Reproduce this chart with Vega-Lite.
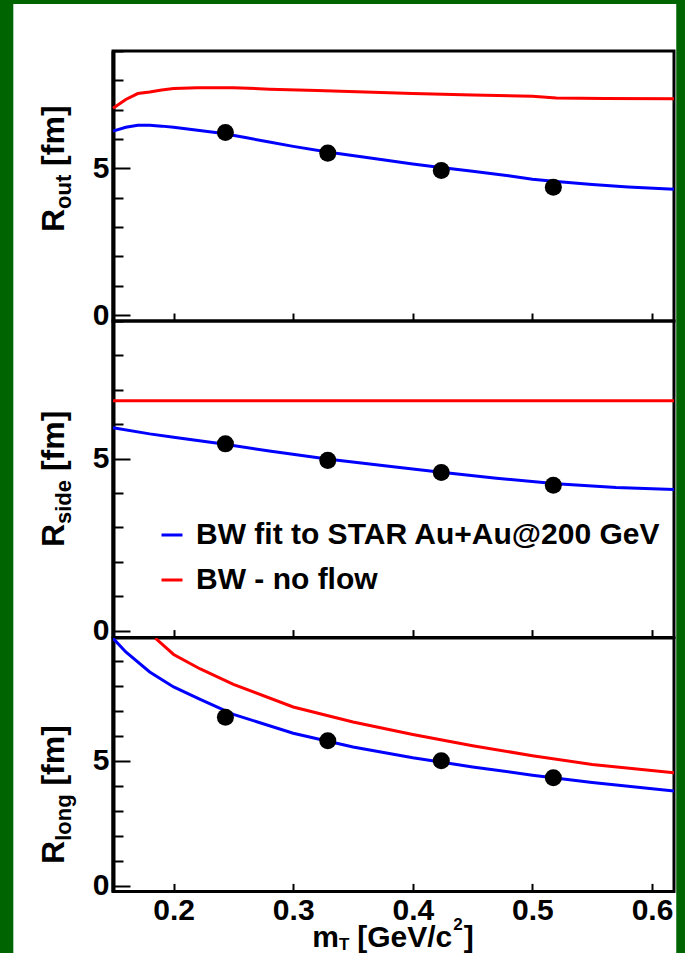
{
  "$schema": "https://vega.github.io/schema/vega-lite/v6.json",
  "background": "#006400",
  "padding": {"left": 13, "top": 4, "right": 9, "bottom": 0},
  "autosize": {"type": "pad"},
  "bounds": "flush",
  "spacing": 0,
  "config": {
    "font": "Liberation Sans",
    "view": {"stroke": "black", "strokeWidth": 3},
    "axis": {"zindex": 1, "labelFont": "Liberation Sans", "labelFontWeight": "bold", "labelFontSize": 30, "labelColor": "black", "tickColor": "black", "grid": false, "domain": false, "title": null, "labelOverlap": false},
    "text": {"font": "Liberation Sans", "fontWeight": "bold", "color": "black"}
  },
  "resolve": {"scale": {"x": "independent", "y": "independent", "color": "independent"}, "legend": {"color": "independent"}},
  "datasets": {
    "curves": [
      {"panel": "out", "series": "BW - no flow", "mT": 0.1493, "R": 7.05},
      {"panel": "out", "series": "BW - no flow", "mT": 0.16, "R": 7.35},
      {"panel": "out", "series": "BW - no flow", "mT": 0.17, "R": 7.55},
      {"panel": "out", "series": "BW - no flow", "mT": 0.18, "R": 7.6},
      {"panel": "out", "series": "BW - no flow", "mT": 0.19, "R": 7.67},
      {"panel": "out", "series": "BW - no flow", "mT": 0.2, "R": 7.72},
      {"panel": "out", "series": "BW - no flow", "mT": 0.22, "R": 7.75},
      {"panel": "out", "series": "BW - no flow", "mT": 0.25, "R": 7.75},
      {"panel": "out", "series": "BW - no flow", "mT": 0.28, "R": 7.7},
      {"panel": "out", "series": "BW - no flow", "mT": 0.32, "R": 7.65},
      {"panel": "out", "series": "BW - no flow", "mT": 0.36, "R": 7.6},
      {"panel": "out", "series": "BW - no flow", "mT": 0.4, "R": 7.55},
      {"panel": "out", "series": "BW - no flow", "mT": 0.45, "R": 7.5},
      {"panel": "out", "series": "BW - no flow", "mT": 0.5, "R": 7.46},
      {"panel": "out", "series": "BW - no flow", "mT": 0.52, "R": 7.4},
      {"panel": "out", "series": "BW - no flow", "mT": 0.56, "R": 7.38},
      {"panel": "out", "series": "BW - no flow", "mT": 0.6184, "R": 7.37},
      {"panel": "out", "series": "BW fit to STAR Au+Au@200 GeV", "mT": 0.1493, "R": 6.27},
      {"panel": "out", "series": "BW fit to STAR Au+Au@200 GeV", "mT": 0.16, "R": 6.4},
      {"panel": "out", "series": "BW fit to STAR Au+Au@200 GeV", "mT": 0.17, "R": 6.47},
      {"panel": "out", "series": "BW fit to STAR Au+Au@200 GeV", "mT": 0.18, "R": 6.47},
      {"panel": "out", "series": "BW fit to STAR Au+Au@200 GeV", "mT": 0.19, "R": 6.44},
      {"panel": "out", "series": "BW fit to STAR Au+Au@200 GeV", "mT": 0.2, "R": 6.4},
      {"panel": "out", "series": "BW fit to STAR Au+Au@200 GeV", "mT": 0.22, "R": 6.3},
      {"panel": "out", "series": "BW fit to STAR Au+Au@200 GeV", "mT": 0.24, "R": 6.2},
      {"panel": "out", "series": "BW fit to STAR Au+Au@200 GeV", "mT": 0.26, "R": 6.05},
      {"panel": "out", "series": "BW fit to STAR Au+Au@200 GeV", "mT": 0.28, "R": 5.9},
      {"panel": "out", "series": "BW fit to STAR Au+Au@200 GeV", "mT": 0.3, "R": 5.75},
      {"panel": "out", "series": "BW fit to STAR Au+Au@200 GeV", "mT": 0.33, "R": 5.55},
      {"panel": "out", "series": "BW fit to STAR Au+Au@200 GeV", "mT": 0.36, "R": 5.38},
      {"panel": "out", "series": "BW fit to STAR Au+Au@200 GeV", "mT": 0.4, "R": 5.15},
      {"panel": "out", "series": "BW fit to STAR Au+Au@200 GeV", "mT": 0.42, "R": 5.05},
      {"panel": "out", "series": "BW fit to STAR Au+Au@200 GeV", "mT": 0.45, "R": 4.9},
      {"panel": "out", "series": "BW fit to STAR Au+Au@200 GeV", "mT": 0.48, "R": 4.75},
      {"panel": "out", "series": "BW fit to STAR Au+Au@200 GeV", "mT": 0.5, "R": 4.63},
      {"panel": "out", "series": "BW fit to STAR Au+Au@200 GeV", "mT": 0.52, "R": 4.55},
      {"panel": "out", "series": "BW fit to STAR Au+Au@200 GeV", "mT": 0.55, "R": 4.45},
      {"panel": "out", "series": "BW fit to STAR Au+Au@200 GeV", "mT": 0.58, "R": 4.37},
      {"panel": "out", "series": "BW fit to STAR Au+Au@200 GeV", "mT": 0.6184, "R": 4.29},
      {"panel": "side", "series": "BW - no flow", "mT": 0.1493, "R": 6.68},
      {"panel": "side", "series": "BW - no flow", "mT": 0.6184, "R": 6.68},
      {"panel": "side", "series": "BW fit to STAR Au+Au@200 GeV", "mT": 0.1493, "R": 5.9},
      {"panel": "side", "series": "BW fit to STAR Au+Au@200 GeV", "mT": 0.18, "R": 5.72},
      {"panel": "side", "series": "BW fit to STAR Au+Au@200 GeV", "mT": 0.2, "R": 5.62},
      {"panel": "side", "series": "BW fit to STAR Au+Au@200 GeV", "mT": 0.24, "R": 5.43},
      {"panel": "side", "series": "BW fit to STAR Au+Au@200 GeV", "mT": 0.28, "R": 5.22},
      {"panel": "side", "series": "BW fit to STAR Au+Au@200 GeV", "mT": 0.33, "R": 4.98},
      {"panel": "side", "series": "BW fit to STAR Au+Au@200 GeV", "mT": 0.38, "R": 4.78},
      {"panel": "side", "series": "BW fit to STAR Au+Au@200 GeV", "mT": 0.42, "R": 4.62},
      {"panel": "side", "series": "BW fit to STAR Au+Au@200 GeV", "mT": 0.47, "R": 4.43},
      {"panel": "side", "series": "BW fit to STAR Au+Au@200 GeV", "mT": 0.52, "R": 4.27},
      {"panel": "side", "series": "BW fit to STAR Au+Au@200 GeV", "mT": 0.57, "R": 4.16},
      {"panel": "side", "series": "BW fit to STAR Au+Au@200 GeV", "mT": 0.6184, "R": 4.1},
      {"panel": "long", "series": "BW - no flow", "mT": 0.1847, "R": 9.9},
      {"panel": "long", "series": "BW - no flow", "mT": 0.2, "R": 9.25},
      {"panel": "long", "series": "BW - no flow", "mT": 0.2223, "R": 8.67},
      {"panel": "long", "series": "BW - no flow", "mT": 0.25, "R": 8.05},
      {"panel": "long", "series": "BW - no flow", "mT": 0.3, "R": 7.15},
      {"panel": "long", "series": "BW - no flow", "mT": 0.35, "R": 6.55},
      {"panel": "long", "series": "BW - no flow", "mT": 0.4, "R": 6.05},
      {"panel": "long", "series": "BW - no flow", "mT": 0.45, "R": 5.6},
      {"panel": "long", "series": "BW - no flow", "mT": 0.5, "R": 5.2},
      {"panel": "long", "series": "BW - no flow", "mT": 0.55, "R": 4.85},
      {"panel": "long", "series": "BW - no flow", "mT": 0.6184, "R": 4.52},
      {"panel": "long", "series": "BW fit to STAR Au+Au@200 GeV", "mT": 0.1493, "R": 9.9},
      {"panel": "long", "series": "BW fit to STAR Au+Au@200 GeV", "mT": 0.16, "R": 9.35},
      {"panel": "long", "series": "BW fit to STAR Au+Au@200 GeV", "mT": 0.18, "R": 8.55},
      {"panel": "long", "series": "BW fit to STAR Au+Au@200 GeV", "mT": 0.2, "R": 7.95},
      {"panel": "long", "series": "BW fit to STAR Au+Au@200 GeV", "mT": 0.2222, "R": 7.45},
      {"panel": "long", "series": "BW fit to STAR Au+Au@200 GeV", "mT": 0.25, "R": 6.85},
      {"panel": "long", "series": "BW fit to STAR Au+Au@200 GeV", "mT": 0.3, "R": 6.1},
      {"panel": "long", "series": "BW fit to STAR Au+Au@200 GeV", "mT": 0.35, "R": 5.55},
      {"panel": "long", "series": "BW fit to STAR Au+Au@200 GeV", "mT": 0.4, "R": 5.12},
      {"panel": "long", "series": "BW fit to STAR Au+Au@200 GeV", "mT": 0.45, "R": 4.75},
      {"panel": "long", "series": "BW fit to STAR Au+Au@200 GeV", "mT": 0.5, "R": 4.42},
      {"panel": "long", "series": "BW fit to STAR Au+Au@200 GeV", "mT": 0.55, "R": 4.13},
      {"panel": "long", "series": "BW fit to STAR Au+Au@200 GeV", "mT": 0.6184, "R": 3.79}
    ],
    "points": [
      {"panel": "out", "mT": 0.2433, "R": 6.22},
      {"panel": "out", "mT": 0.3289, "R": 5.52},
      {"panel": "out", "mT": 0.4238, "R": 4.93},
      {"panel": "out", "mT": 0.5175, "R": 4.36},
      {"panel": "side", "mT": 0.2433, "R": 5.43},
      {"panel": "side", "mT": 0.3289, "R": 4.95},
      {"panel": "side", "mT": 0.4238, "R": 4.6},
      {"panel": "side", "mT": 0.5175, "R": 4.23},
      {"panel": "long", "mT": 0.2433, "R": 6.74},
      {"panel": "long", "mT": 0.3289, "R": 5.8},
      {"panel": "long", "mT": 0.4238, "R": 5.0},
      {"panel": "long", "mT": 0.5175, "R": 4.32}
    ]
  },
  "vconcat": [
    {
      "width": 561,
      "height": 46.7,
      "view": {"stroke": null},
      "data": {"values": [{}]},
      "mark": {"type": "rect", "color": "white"},
      "encoding": {
        "x": {"datum": 0.06594, "type": "quantitative", "scale": {"domain": [0.1493, 0.6184], "nice": false, "zero": false}, "axis": null},
        "x2": {"datum": 0.62029},
        "y": {"datum": 1, "type": "quantitative", "scale": {"domain": [0, 1], "nice": false, "zero": false}, "axis": null},
        "y2": {"datum": -19.3191}
      }
    },
    {
      "width": 561,
      "height": 270,
      "layer": [
        {
          "data": {"name": "curves"},
          "transform": [{"filter": "datum.panel == 'out'"}],
          "mark": {"type": "line", "strokeWidth": 3},
          "encoding": {
            "x": {"field": "mT", "type": "quantitative", "scale": {"domain": [0.1493, 0.6184], "nice": false, "zero": false}, "axis": {"values": [0.2, 0.3, 0.4, 0.5, 0.6], "tickCount": 20, "tickSize": -8, "tickWidth": 2, "labels": false}},
            "y": {"field": "R", "type": "quantitative", "scale": {"domain": [-0.2, 9], "nice": false, "zero": false}, "axis": {"values": [0, 1, 2, 3, 4, 5, 6, 7, 8, 9], "tickCount": 20, "format": "d", "labelExpr": "datum.value == 0 || datum.value == 5 ? datum.label : ''", "labelOverlap": false, "tickSize": {"condition": {"test": "datum.value % 5 === 0", "value": -17}, "value": -10}, "tickWidth": 2, "domain": true, "domainWidth": 4, "domainColor": "black", "labelPadding": 21}},
            "color": {"field": "series", "type": "nominal", "scale": {"domain": ["BW fit to STAR Au+Au@200 GeV", "BW - no flow"], "range": ["#0000ff", "#ff0000"]}, "legend": null}
          }
        },
        {
          "data": {"name": "points"},
          "transform": [{"filter": "datum.panel == 'out'"}],
          "mark": {"type": "circle", "color": "black", "opacity": 1, "size": 290},
          "encoding": {
            "x": {"field": "mT", "type": "quantitative"},
            "y": {"field": "R", "type": "quantitative"}
          }
        },
        {"data": {"values": [{}]}, "mark": {"type": "text", "text": "R", "angle": 270, "align": "left", "baseline": "alphabetic", "fontSize": 32}, "encoding": {"x": {"datum": 0.108}, "y": {"datum": 2.83}}},
        {"data": {"values": [{}]}, "mark": {"type": "text", "text": "out", "angle": 270, "align": "left", "baseline": "alphabetic", "fontSize": 22, "dx": 23.1, "dy": 7}, "encoding": {"x": {"datum": 0.108}, "y": {"datum": 2.83}}},
        {"data": {"values": [{}]}, "mark": {"type": "text", "text": "[fm]", "angle": 270, "align": "left", "baseline": "alphabetic", "fontSize": 32, "dx": 66.2}, "encoding": {"x": {"datum": 0.108}, "y": {"datum": 2.83}}}
      ]
    },
    {
      "width": 561,
      "height": 316.6,
      "layer": [
        {
          "data": {"name": "curves"},
          "transform": [{"filter": "datum.panel == 'side'"}],
          "mark": {"type": "line", "strokeWidth": 3},
          "encoding": {
            "x": {"field": "mT", "type": "quantitative", "scale": {"domain": [0.1493, 0.6184], "nice": false, "zero": false}, "axis": {"values": [0.2, 0.3, 0.4, 0.5, 0.6], "tickCount": 20, "tickSize": -8, "tickWidth": 2, "labels": false}},
            "y": {"field": "R", "type": "quantitative", "scale": {"domain": [-0.2, 9], "nice": false, "zero": false}, "axis": {"values": [0, 1, 2, 3, 4, 5, 6, 7, 8, 9], "tickCount": 20, "format": "d", "labelExpr": "datum.value == 0 || datum.value == 5 ? datum.label : ''", "labelOverlap": false, "tickSize": {"condition": {"test": "datum.value % 5 === 0", "value": -17}, "value": -10}, "tickWidth": 2, "domain": true, "domainWidth": 4, "domainColor": "black", "labelPadding": 21}},
            "color": {"field": "series", "type": "nominal", "scale": {"domain": ["BW fit to STAR Au+Au@200 GeV", "BW - no flow"], "range": ["#0000ff", "#ff0000"]}, "legend": {"orient": "none", "legendX": 44, "legendY": 199, "title": null, "symbolType": "stroke", "symbolSize": 441, "symbolStrokeWidth": 3, "labelFontSize": 30, "labelFont": "Liberation Sans", "labelFontWeight": "bold", "labelColor": "black", "rowPadding": 15, "labelOffset": 9, "labelLimit": 0}}
          }
        },
        {
          "data": {"name": "points"},
          "transform": [{"filter": "datum.panel == 'side'"}],
          "mark": {"type": "circle", "color": "black", "opacity": 1, "size": 290},
          "encoding": {
            "x": {"field": "mT", "type": "quantitative"},
            "y": {"field": "R", "type": "quantitative"}
          }
        },
        {"data": {"values": [{}]}, "mark": {"type": "text", "text": "R", "angle": 270, "align": "left", "baseline": "alphabetic", "fontSize": 32}, "encoding": {"x": {"datum": 0.108}, "y": {"datum": 2.43}}},
        {"data": {"values": [{}]}, "mark": {"type": "text", "text": "side", "angle": 270, "align": "left", "baseline": "alphabetic", "fontSize": 22, "dx": 23.1, "dy": 7}, "encoding": {"x": {"datum": 0.108}, "y": {"datum": 2.43}}},
        {"data": {"values": [{}]}, "mark": {"type": "text", "text": "[fm]", "angle": 270, "align": "left", "baseline": "alphabetic", "fontSize": 32, "dx": 76}, "encoding": {"x": {"datum": 0.108}, "y": {"datum": 2.43}}}
      ]
    },
    {
      "width": 561,
      "height": 253.4,
      "layer": [
        {
          "data": {"name": "curves"},
          "transform": [{"filter": "datum.panel == 'long'"}],
          "mark": {"type": "line", "strokeWidth": 3, "clip": true},
          "encoding": {
            "x": {"field": "mT", "type": "quantitative", "scale": {"domain": [0.1493, 0.6184], "nice": false, "zero": false}, "axis": {"values": [0.2, 0.3, 0.4, 0.5, 0.6], "tickCount": 20, "tickSize": -8, "tickWidth": 2, "labels": true, "labelPadding": 12, "format": ".1f"}},
            "y": {"field": "R", "type": "quantitative", "scale": {"domain": [-0.228, 9.908], "nice": false, "zero": false}, "axis": {"values": [0, 1, 2, 3, 4, 5, 6, 7, 8, 9], "tickCount": 20, "format": "d", "labelExpr": "datum.value == 0 || datum.value == 5 ? datum.label : ''", "labelOverlap": false, "tickSize": {"condition": {"test": "datum.value % 5 === 0", "value": -17}, "value": -10}, "tickWidth": 2, "domain": true, "domainWidth": 4, "domainColor": "black", "labelPadding": 21}},
            "color": {"field": "series", "type": "nominal", "scale": {"domain": ["BW fit to STAR Au+Au@200 GeV", "BW - no flow"], "range": ["#0000ff", "#ff0000"]}, "legend": null}
          }
        },
        {
          "data": {"name": "points"},
          "transform": [{"filter": "datum.panel == 'long'"}],
          "mark": {"type": "circle", "color": "black", "opacity": 1, "size": 290},
          "encoding": {
            "x": {"field": "mT", "type": "quantitative"},
            "y": {"field": "R", "type": "quantitative"}
          }
        },
        {"data": {"values": [{}]}, "mark": {"type": "text", "text": "R", "angle": 270, "align": "left", "baseline": "alphabetic", "fontSize": 32}, "encoding": {"x": {"datum": 0.108}, "y": {"datum": 0.87}}},
        {"data": {"values": [{}]}, "mark": {"type": "text", "text": "long", "angle": 270, "align": "left", "baseline": "alphabetic", "fontSize": 22, "dx": 23.1, "dy": 7}, "encoding": {"x": {"datum": 0.108}, "y": {"datum": 0.87}}},
        {"data": {"values": [{}]}, "mark": {"type": "text", "text": "[fm]", "angle": 270, "align": "left", "baseline": "alphabetic", "fontSize": 32, "dx": 78.4}, "encoding": {"x": {"datum": 0.108}, "y": {"datum": 0.87}}},
        {"data": {"values": [{}]}, "mark": {"type": "text", "text": "m", "align": "left", "baseline": "alphabetic", "fontSize": 30}, "encoding": {"x": {"datum": 0.3159}, "y": {"datum": -2.44}}},
        {"data": {"values": [{}]}, "mark": {"type": "text", "text": "T", "align": "left", "baseline": "alphabetic", "fontSize": 17, "dx": 26.7, "dy": 3}, "encoding": {"x": {"datum": 0.3159}, "y": {"datum": -2.44}}},
        {"data": {"values": [{}]}, "mark": {"type": "text", "text": "[GeV/c", "align": "left", "baseline": "alphabetic", "fontSize": 30, "dx": 45}, "encoding": {"x": {"datum": 0.3159}, "y": {"datum": -2.44}}},
        {"data": {"values": [{}]}, "mark": {"type": "text", "text": "2", "align": "left", "baseline": "alphabetic", "fontSize": 17, "dx": 141, "dy": -17}, "encoding": {"x": {"datum": 0.3159}, "y": {"datum": -2.44}}},
        {"data": {"values": [{}]}, "mark": {"type": "text", "text": "]", "align": "left", "baseline": "alphabetic", "fontSize": 30, "dx": 151.5}, "encoding": {"x": {"datum": 0.3159}, "y": {"datum": -2.44}}}
      ]
    }
  ]
}
